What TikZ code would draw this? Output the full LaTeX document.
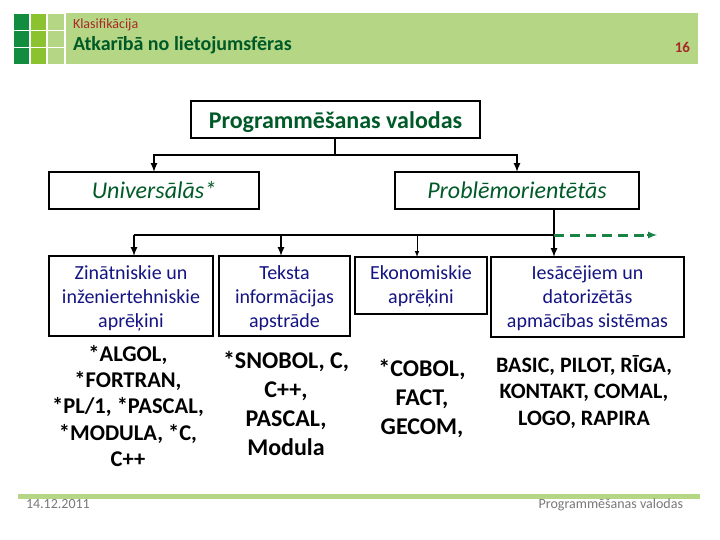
\documentclass[tikz,border=0pt]{standalone}
\usepackage{fontspec}
\setmainfont{Carlito}
\usetikzlibrary{arrows}

\definecolor{bandgreen}{RGB}{181, 214, 132}
\definecolor{squaredark}{RGB}{18, 140, 62}
\definecolor{squaremid}{RGB}{138, 194, 48}
\definecolor{titlegreen}{RGB}{0, 90, 40}
\definecolor{headred}{RGB}{170, 40, 40}
\definecolor{boxblue}{RGB}{20, 20, 130}
\definecolor{footgray}{RGB}{120, 120, 120}
\definecolor{dashgreen}{RGB}{25, 130, 70}

\newcommand{\topstrut}[1]{\rule{0pt}{#1}}

\tikzset{
	classbox/.style={draw=black, line width=2pt, inner sep=0, outer sep=0, align=center},
	headbox/.style={classbox, text=titlegreen},
	topicbox/.style={classbox, text=boxblue, font=\fontsize{20pt}{24pt}\selectfont},
	langlist/.style 2 args={inner sep=0, outer sep=0, align=center, text=black, font=\fontsize{#1}{#2}\bfseries\selectfont},
	plaintext/.style={inner sep=0, outer sep=0},
	conn/.style={draw=black, line width=2pt},
	connarrow/.style={conn, -latex}
}

\begin{document}
\begin{tikzpicture}[x=1pt,y=-1pt,line cap=butt]
	\useasboundingbox (0,0) rectangle (720,540);
	% header
	\fill [bandgreen] (66,13) rectangle (698,64.5);
	\foreach \row/\ypos in {0/14,1/31,2/48} {
		\fill [squaredark] (14,\ypos) rectangle +(15,16);
		\fill [squaremid] (31,\ypos) rectangle +(15,16);
		\fill [bandgreen] (48,\ypos) rectangle +(16,16);
	}
	\node[plaintext, anchor=base west, text=headred, font=\fontsize{14pt}{14pt}\selectfont] (kicker) at (73,29) {Klasifikācija};
	\node[plaintext, anchor=base west, text=titlegreen, font=\fontsize{20pt}{20pt}\bfseries\selectfont] (title) at (73,51) {Atkarībā no lietojumsfēras};
	\node[plaintext, anchor=base east, text=headred, font=\fontsize{15pt}{15pt}\bfseries\selectfont] (pagenum) at (690,53) {16};

	% tree
	\node[headbox, minimum width=289, minimum height=37, font=\fontsize{24pt}{24pt}\bfseries\selectfont] (prog) at (335.5,119.5) {\topstrut{23pt}Programmēšanas valodas};
	\node[headbox, minimum width=210, minimum height=37, font=\fontsize{24pt}{24pt}\itshape\selectfont] (univ) at (154,190.5) {Universālās*};
	\node[headbox, minimum width=244, minimum height=37, font=\fontsize{24pt}{24pt}\itshape\selectfont] (prob) at (517,190.5) {Problēmorientētās};

	\node[topicbox, minimum width=164, minimum height=80] (sci) at (131,296) {\topstrut{18pt}Zinātniskie un\\inženiertehniskie\\aprēķini};
	\node[topicbox, minimum width=131, minimum height=80] (txt) at (284.5,296) {\topstrut{18pt}Teksta\\informācijas\\apstrāde};
	\node[topicbox, minimum width=132, minimum height=57] (eco) at (421,285.5) {\topstrut{16.5pt}Ekonomiskie\\aprēķini};
	\node[topicbox, minimum width=193, minimum height=80] (edu) at (587.5,297) {\topstrut{16.5pt}Iesācējiem un\\datorizētās\\apmācības sistēmas};

	\node[langlist={22.5pt}{26.3pt}] (scilist) at (128,406) {*ALGOL,\\*FORTRAN,\\*PL/1, *PASCAL,\\*MODULA, *C,\\C++};
	\node[langlist={24pt}{29pt}] (txtlist) at (286,404) {*SNOBOL, C,\\C++,\\PASCAL,\\Modula};
	\node[langlist={24pt}{29pt}] (ecolist) at (422,398.5) {*COBOL,\\FACT,\\GECOM,};
	\node[langlist={22pt}{26.5pt}] (edulist) at (584,392) {BASIC, PILOT, RĪGA,\\KONTAKT, COMAL,\\LOGO, RAPIRA};

	% connectors
	\coordinate (forka) at (335,155);
	\coordinate (forkb) at (554,235);
	\coordinate (stopsci) at (134,235);
	\coordinate (stoptxt) at (281,235);
	\coordinate (stopeco) at (417,235);
	\coordinate (dashstop) at (647,235);
	\coordinate (dashend) at (657,235);
	\draw [conn] (prog.south -| forka) -- (forka);
	\draw [connarrow] (forka) -| (univ.north);
	\draw [connarrow] (forka) -| (prob.north);
	\draw [conn] (stopsci) -- (forkb);
	\draw [connarrow] (stopsci) -- (stopsci |- sci.north);
	\draw [connarrow] (stoptxt) -- (stoptxt |- txt.north);
	\draw [connarrow, line width=1pt] (stopeco) -- (stopeco |- eco.north);
	\draw [connarrow] (forkb |- prob.south) -- (forkb |- edu.north);
	\draw [dashgreen, line width=3pt, dash pattern=on 10pt off 6pt] (forkb) -- (dashstop);
	\draw [dashgreen, line width=2pt, -latex] (dashstop) -- (dashend);

	% footer
	\fill [bandgreen] (18,494) rectangle (700,499);
	\node[plaintext, anchor=base west, text=footgray, font=\fontsize{14pt}{14pt}\selectfont] (datelabel) at (26,508) {14.12.2011};
	\node[plaintext, anchor=base east, text=footgray, font=\fontsize{14pt}{14pt}\selectfont] (footlabel) at (683,508) {Programmēšanas valodas};
\end{tikzpicture}
\end{document}
